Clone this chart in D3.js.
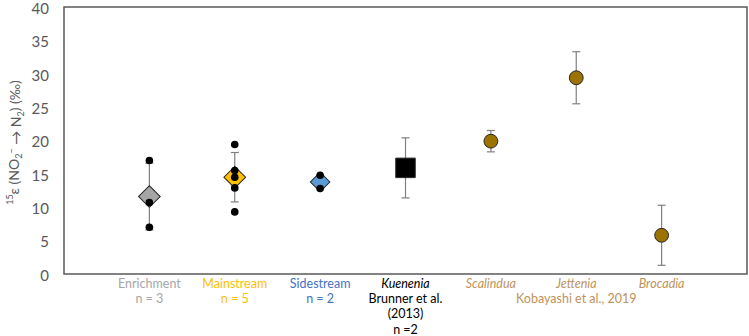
<!DOCTYPE html>
<html>
<head>
<meta charset="utf-8">
<script src="https://cdn.jsdelivr.net/npm/d3@7"></script>
<style>
  body { margin: 0; background: #fff; }
  svg { display: block; font-family: Lato, "DejaVu Sans", sans-serif; }
</style>
</head>
<body>
<div id="chart"></div>
<script>
// data
const categories = ["Enrichment", "Mainstream", "Sidestream", "Kuenenia", "Scalindua", "Jettenia", "Brocadia"];
const means = [11.6, 14.5, 13.8, 15.9, 19.9, 29.4, 5.8];
const errors = [5.0, 3.7, 1.0, 4.5, 1.6, 3.9, 4.5];
const sampleLabels = ["n = 3", "n = 5", "n = 2", "Brunner et al.", "", "", ""];
const enrichmentPoints = [17.0, 10.7, 7.0];
const mainstreamPoints = [19.4, 15.5, 14.5, 12.9, 9.3];
const sidestreamPoints = [14.8, 12.8];
const yTicks = [0, 5, 10, 15, 20, 25, 30, 35, 40];

const width = 749, height = 336;
const plotLeft = 64, plotRight = 747, plotTop = 7, plotBottom = 274;

const svg = d3.select('#chart').append('svg')
  .attr('width', width)
  .attr('height', height);

const x = d3.scaleLinear().domain([0, categories.length + 1]).range([plotLeft, plotRight]);
const y = d3.scaleLinear().domain([0, 40]).range([plotBottom, plotTop]);

// styling per category
const markerShape = ['diamond', 'diamond', 'diamond', 'square', 'circle', 'circle', 'circle'];
const markerFill = ['#a5a5a5', '#ffc000', '#5b9bd5', '#000000', '#9c7300', '#9c7300', '#9c7300'];
const labelColor = ['#a6a6a6', '#ffc000', '#4472c4', '#000000', '#c0935a', '#c0935a', '#c0935a'];
const italic = [false, false, false, true, true, true, true];

// y tick labels
svg.append('g')
  .selectAll('text')
  .data(yTicks)
  .join('text')
  .attr('x', 49)
  .attr('y', d => y(d) + 1.5)
  .attr('dy', '0.35em')
  .attr('text-anchor', 'end')
  .attr('fill', '#595959')
  .style('font-size', '15px')
  .text(d => d);

// y axis title
const title = svg.append('text')
  .attr('transform', 'translate(17,' + ((plotTop + plotBottom) / 2 + 2) + ') rotate(-90)')
  .attr('text-anchor', 'middle')
  .attr('fill', '#595959')
  .style('font-size', '14px');
title.append('tspan').attr('dy', '-0.4em').style('font-size', '9px').text('15');
title.append('tspan').attr('dy', '0.4em').text('ε (NO');
title.append('tspan').attr('dy', '0.3em').style('font-size', '9px').text('2');
title.append('tspan').attr('dy', '-0.7em').style('font-size', '9px').text('−');
title.append('tspan').attr('dy', '0.4em').text(' → N');
title.append('tspan').attr('dy', '0.3em').style('font-size', '9px').text('2');
title.append('tspan').attr('dy', '-0.3em').text(') (‰)');

// error bars
const eb = svg.append('g')
  .selectAll('g')
  .data(categories)
  .join('g')
  .attr('stroke', '#808080')
  .attr('stroke-width', 1.2);

eb.append('line')
  .attr('x1', (d, i) => x(i + 1))
  .attr('x2', (d, i) => x(i + 1))
  .attr('y1', (d, i) => y(means[i] + errors[i]))
  .attr('y2', (d, i) => y(means[i] - errors[i]));
eb.append('line')
  .attr('x1', (d, i) => x(i + 1) - 4)
  .attr('x2', (d, i) => x(i + 1) + 4)
  .attr('y1', (d, i) => y(means[i] + errors[i]))
  .attr('y2', (d, i) => y(means[i] + errors[i]));
eb.append('line')
  .attr('x1', (d, i) => x(i + 1) - 4)
  .attr('x2', (d, i) => x(i + 1) + 4)
  .attr('y1', (d, i) => y(means[i] - errors[i]))
  .attr('y2', (d, i) => y(means[i] - errors[i]));

// mean markers
svg.append('g')
  .selectAll('path')
  .data(categories)
  .join('path')
  .attr('d', (d, i) => {
    if (markerShape[i] === 'diamond') {
      return d3.symbol().type(d3.symbolSquare).size(i === 2 ? 190 : 235)();
    }
    if (markerShape[i] === 'square') return d3.symbol().type(d3.symbolSquare).size(380)();
    return d3.symbol().type(d3.symbolCircle).size(150)();
  })
  .attr('transform', (d, i) => 'translate(' + x(i + 1) + ',' + y(means[i]) + ')' +
    (markerShape[i] === 'diamond' ? ' rotate(45)' : ''))
  .attr('fill', (d, i) => markerFill[i])
  .attr('stroke', '#262626')
  .attr('stroke-width', 1);

// individual measurements
const points = [
  ...enrichmentPoints.map(v => ({ c: 1, v })),
  ...mainstreamPoints.map(v => ({ c: 2, v })),
  ...sidestreamPoints.map(v => ({ c: 3, v }))
];
svg.append('g')
  .selectAll('circle')
  .data(points)
  .join('circle')
  .attr('cx', d => x(d.c))
  .attr('cy', d => y(d.v))
  .attr('r', 3.8)
  .attr('fill', '#000');

// frame
svg.append('rect')
  .attr('x', plotLeft)
  .attr('y', plotTop)
  .attr('width', plotRight - plotLeft)
  .attr('height', plotBottom - plotTop)
  .attr('fill', 'none')
  .attr('stroke', '#595959')
  .attr('stroke-width', 1.5);

// category labels
const lab = svg.append('g').style('font-size', '12.5px').attr('text-anchor', 'middle');
lab.selectAll('text.cat')
  .data(categories)
  .join('text')
  .attr('class', 'cat')
  .attr('x', (d, i) => x(i + 1))
  .attr('y', 288)
  .attr('fill', (d, i) => labelColor[i])
  .style('font-style', (d, i) => italic[i] ? 'italic' : 'normal')
  .text(d => d);
lab.selectAll('text.n')
  .data(sampleLabels)
  .join('text')
  .attr('class', 'n')
  .attr('x', (d, i) => x(i + 1))
  .attr('y', 303)
  .attr('fill', (d, i) => i === 3 ? '#000' : labelColor[i])
  .text(d => d);
lab.append('text').attr('x', x(4)).attr('y', 318).attr('fill', '#000').text('(2013)');
lab.append('text').attr('x', x(4)).attr('y', 334).attr('fill', '#000').text('n =2');
lab.append('text').attr('x', x(6)).attr('y', 303).attr('fill', labelColor[4]).text('Kobayashi et al., 2019');
</script>
</body>
</html>
